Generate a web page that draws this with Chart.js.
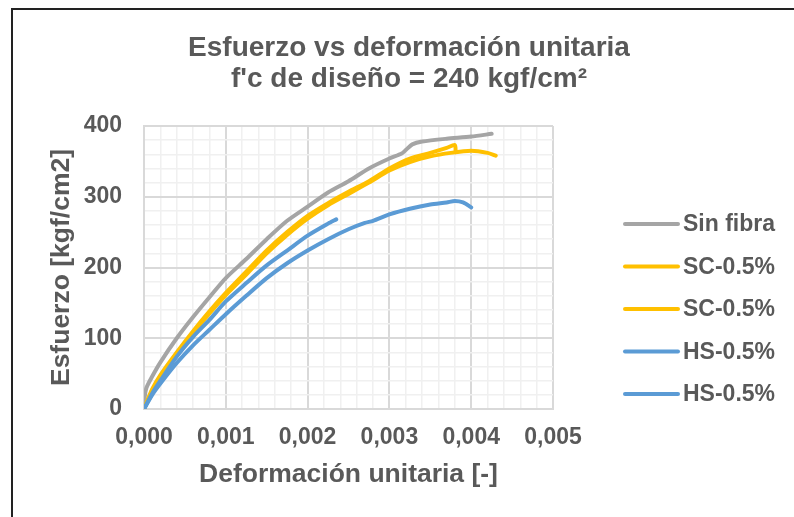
<!DOCTYPE html>
<html>
<head>
<meta charset="utf-8">
<script src="https://cdn.jsdelivr.net/npm/chart.js@4.4.1/dist/chart.umd.min.js"></script>
<style>
  html, body { margin: 0; padding: 0; background: #fff; overflow: hidden; }
  #frame { position: absolute; left: 11px; top: 8px; width: 900px; height: 700px;
           border-left: 2px solid #222; border-top: 2px solid #222; }
  #chart { position: absolute; left: 0; top: 0; }
</style>
</head>
<body>
<div id="frame"></div>
<canvas id="chart" width="794" height="517"></canvas>
<script>
// esfuerzo vs deformacion, f'c 240

const seriesNames = ['Sin fibra', 'SC-0.5%', 'SC-0.5%', 'HS-0.5%', 'HS-0.5%'];
const seriesColors = ['#a5a5a5', '#ffc000', '#ffc000', '#5b9bd5', '#5b9bd5'];

const strainSinFibra = [0, 0.00001, 0.00003, 0.0001, 0.0002, 0.0004, 0.0006, 0.0008, 0.001, 0.00125, 0.0015, 0.00175, 0.002, 0.00225, 0.0025, 0.00275, 0.003, 0.00315, 0.0032, 0.00328, 0.0034, 0.0037, 0.004, 0.00425];
const stressSinFibra = [0, 18, 30, 46, 66, 100, 130, 158, 185, 212, 240, 266, 286, 306, 322, 340, 354, 361, 366, 374, 378, 382, 385, 389];

const strainSC1 = [0, 0.0001, 0.0002, 0.0004, 0.0006, 0.0008, 0.001, 0.00125, 0.0015, 0.00175, 0.002, 0.00225, 0.0025, 0.00275, 0.003, 0.00325, 0.0035, 0.0037, 0.0038, 0.00381];
const stressSC1 = [0, 28, 48, 80, 110, 138, 164, 194, 224, 250, 273, 291, 307, 322, 340, 354, 362, 369, 373, 363];

const strainSC2 = [0, 0.0001, 0.0002, 0.0004, 0.0006, 0.0008, 0.001, 0.00125, 0.0015, 0.00175, 0.002, 0.00225, 0.0025, 0.00275, 0.003, 0.00325, 0.0035, 0.00375, 0.004, 0.0042, 0.0043];
const stressSC2 = [0, 26, 45, 77, 107, 135, 161, 190, 220, 246, 269, 288, 304, 320, 337, 349, 357, 362, 365, 362, 358];

const strainHS1 = [0, 0.0001, 0.0002, 0.0004, 0.0006, 0.0008, 0.001, 0.00125, 0.0015, 0.00175, 0.002, 0.00225, 0.00235];
const stressHS1 = [0, 22, 40, 74, 102, 126, 152, 178, 203, 224, 245, 262, 268];

const strainHS2 = [0, 0.0001, 0.0002, 0.0004, 0.0006, 0.0008, 0.001, 0.00125, 0.0015, 0.00175, 0.002, 0.00225, 0.0025, 0.0027, 0.0028, 0.003, 0.00325, 0.0035, 0.0037, 0.0038, 0.0039, 0.004];
const stressHS2 = [0, 20, 36, 65, 90, 112, 134, 160, 185, 206, 224, 240, 254, 263, 266, 275, 283, 289, 292, 294, 292, 285];

const xTickLabels = ['0,000', '0,001', '0,002', '0,003', '0,004', '0,005'];
const yTickLabels = ['0', '100', '200', '300', '400'];

const strains = [strainSinFibra, strainSC1, strainSC2, strainHS1, strainHS2];
const stresses = [stressSinFibra, stressSC1, stressSC2, stressHS1, stressHS2];

function toPoints(xs, ys) {
    return xs.map((x, i) => ({ x: x, y: ys[i] }));
}

const FONT = "'Liberation Sans', Arial, sans-serif";
const TEXT = '#595959';
Chart.defaults.font.family = FONT;
Chart.defaults.font.weight = 'bold';
Chart.defaults.color = TEXT;

const datasets = seriesNames.map((name, i) => ({
    label: name,
    data: toPoints(strains[i], stresses[i]),
    borderColor: seriesColors[i],
    backgroundColor: seriesColors[i],
    borderWidth: 4,
    borderCapStyle: 'round',
    borderJoinStyle: 'round',
    showLine: true,
    pointRadius: 0,
    tension: 0.25,
    order: seriesNames.length - i
}));

// legend on the right, drawn by hand so it sits where excel put it
const sideLegend = {
    id: 'sideLegend',
    afterDraw(chart) {
        const { ctx, chartArea } = chart;
        ctx.save();
        ctx.font = 'bold 23px ' + FONT;
        ctx.textBaseline = 'middle';
        chart.data.datasets.forEach((ds, i) => {
            const x = chartArea.right + 72;
            const y = chartArea.top + 98 + i * 42.5;
            ctx.strokeStyle = ds.borderColor;
            ctx.lineWidth = ds.borderWidth;
            ctx.lineCap = 'round';
            ctx.beginPath();
            ctx.moveTo(x, y);
            ctx.lineTo(x + 53, y);
            ctx.stroke();
            ctx.fillStyle = TEXT;
            ctx.fillText(ds.label, x + 58, y + 1);
        });
        ctx.restore();
    }
};

const isMajorX = v => Math.round(v * 10000) % 10 === 0;
const isMajorY = v => Math.round(v) % 100 === 0;

new Chart(document.getElementById('chart'), {
    type: 'scatter',
    data: { datasets: datasets },
    plugins: [sideLegend],
    options: {
        responsive: false,
        devicePixelRatio: 1,
        animation: false,
        layout: { padding: { left: 24, right: 0, top: 32.6, bottom: 0 } },
        plugins: {
            legend: { display: false },
            tooltip: { enabled: false },
            title: {
                display: true,
                text: ['Esfuerzo vs deformación unitaria', 'f\'c de diseño = 240 kgf/cm²'],
                color: TEXT,
                font: { size: 28, weight: 'bold', lineHeight: 1.1 },
                padding: { top: 0, bottom: 31.8 }
            }
        },
        scales: {
            x: {
                type: 'linear',
                min: 0,
                max: 0.005,
                afterFit(s) { s.height = 108; },
                ticks: {
                    stepSize: 0.0002,
                    maxTicksLimit: 30,
                    autoSkip: false,
                    maxRotation: 0,
                    padding: 15,
                    color: TEXT,
                    font: { size: 23, weight: 'bold' },
                    callback: v => isMajorX(v) ? xTickLabels[Math.round(v * 1000)] : ''
                },
                grid: {
                    drawTicks: false,
                    color: c => isMajorX(c.tick.value) ? '#d9d9d9' : '#f0f0f0',
                    lineWidth: c => isMajorX(c.tick.value) ? 2 : 1.5
                },
                border: { color: '#d9d9d9', width: 2 },
                title: {
                    display: true,
                    text: 'Deformación unitaria [-]',
                    color: TEXT,
                    font: { size: 26.5, weight: 'bold' },
                    padding: { top: 0, bottom: 26 }
                }
            },
            y: {
                min: 0,
                max: 400,
                afterFit(s) { s.width = 120; },
                ticks: {
                    stepSize: 20,
                    maxTicksLimit: 30,
                    autoSkip: false,
                    padding: 22,
                    color: TEXT,
                    font: { size: 23, weight: 'bold' },
                    callback: v => isMajorY(v) ? yTickLabels[Math.round(v / 100)] : ''
                },
                grid: {
                    drawTicks: false,
                    color: c => isMajorY(c.tick.value) ? '#d9d9d9' : '#f0f0f0',
                    lineWidth: c => isMajorY(c.tick.value) ? 2 : 1.5
                },
                border: { color: '#d9d9d9', width: 2 },
                title: {
                    display: true,
                    text: 'Esfuerzo [kgf/cm2]',
                    color: TEXT,
                    font: { size: 26.5, weight: 'bold' },
                    padding: { top: 22, bottom: 0 }
                }
            },
            // empty axis on the right, keeps room for the legend
            gap: {
                type: 'linear',
                position: 'right',
                afterFit(s) { s.width = 241; },
                ticks: { display: false },
                grid: { display: false },
                border: { display: false }
            }
        }
    }
});
</script>
</body>
</html>
